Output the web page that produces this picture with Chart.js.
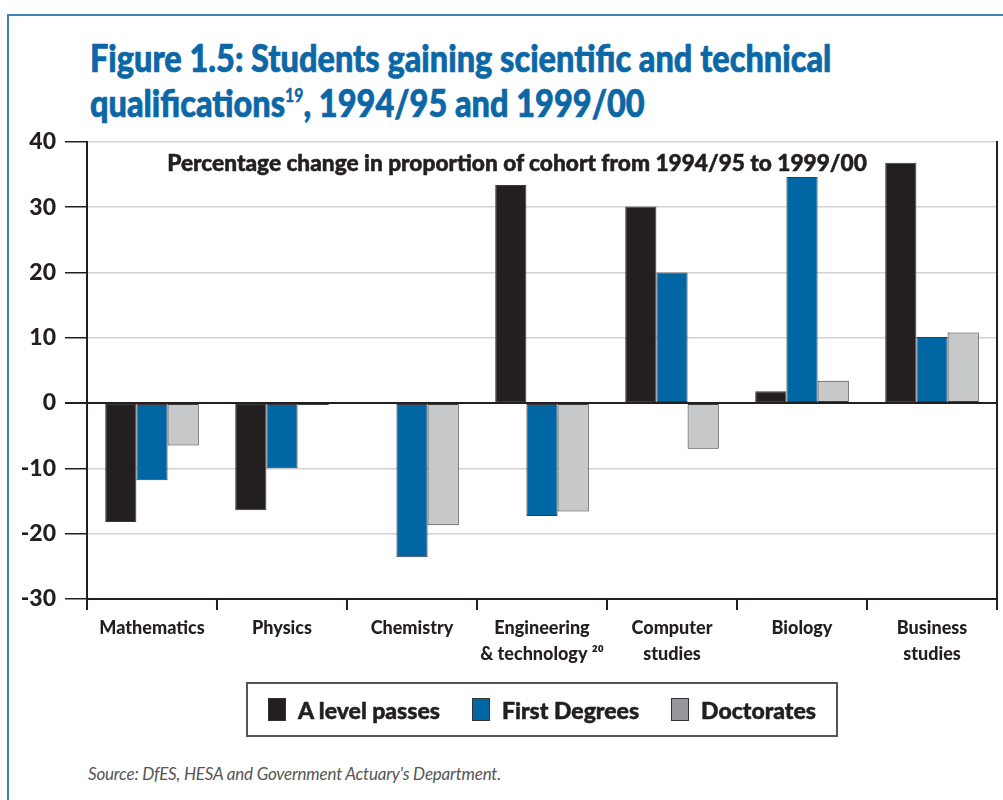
<!DOCTYPE html>
<html>
<head>
<meta charset="utf-8">
<script src="https://cdn.jsdelivr.net/npm/chart.js@4.4.0/dist/chart.umd.min.js"></script>
<style>
  body { margin: 0; background: #fff; width: 1003px; height: 800px; overflow: hidden; position: relative; font-family: Lato, "Open Sans", sans-serif; }
  .frame { position: absolute; left: 7px; top: 14px; right: -10px; bottom: -10px; border-left: 2px solid #3f82ba; border-top: 2px solid #3f82ba; }
  h1 { position: absolute; left: 90px; top: 35px; margin: 0; font-size: 37px; line-height: 45px; color: #0b67a6; font-weight: 900; white-space: nowrap; transform: scaleX(0.878); transform-origin: 0 0; -webkit-text-stroke: 0.7px #0b67a6; }
  h1 sup { font-size: 18px; vertical-align: 15px; line-height: 0; -webkit-text-stroke: 0.3px #0b67a6; }
  .sub { position: absolute; left: 87px; width: 860px; top: 149px; text-align: center; font-weight: 900; font-size: 22px; color: #231f20; -webkit-text-stroke: 0.5px #231f20; transform: scaleX(1.03); transform-origin: 430px 0; }
  #wrap { position: absolute; left: 0; top: 119px; width: 1003px; height: 566px; }
  .legend { position: absolute; left: 246px; top: 682px; width: 592px; height: 55px; border: 2px solid #555; box-sizing: border-box; display: flex; align-items: center; justify-content: center; gap: 32px; font-weight: 900; font-size: 23px; color: #231f20; -webkit-text-stroke: 0.5px #231f20; }
  .legend span { display: inline-flex; align-items: center; }
  .legend i { display: inline-block; width: 16px; height: 21px; border: 1px solid #333; margin-right: 12px; }
  .source { position: absolute; left: 88px; top: 763px; font-style: italic; font-size: 17px; color: #555; letter-spacing: -0.2px; }
</style>
</head>
<body>
<div class="frame"></div>
<h1>Figure 1.5: Students gaining scientific and technical<br>qualifications<sup>19</sup>, 1994/95 and 1999/00</h1>
<div id="wrap"><canvas id="chart"></canvas></div>
<div class="sub">Percentage change in proportion of cohort from 1994/95 to 1999/00</div>
<div class="legend">
  <span><i style="background:#231f20"></i>A level passes</span>
  <span><i style="background:#0066a4"></i>First Degrees</span>
  <span><i style="background:#97989b"></i>Doctorates</span>
</div>
<div class="source">Source: DfES, HESA and Government Actuary's Department.</div>

<script>
const categories = [
  "Mathematics",
  "Physics",
  "Chemistry",
  ["Engineering", "& technology \u00b2\u2070"],
  ["Computer", "studies"],
  "Biology",
  ["Business", "studies"],
];
const aLevelPasses = [-18.2, -16.4, -0.1, 33.4, 30.1, 1.8, 36.8];
const firstDegrees = [-11.8, -10.0, -23.6, -17.3, 20.0, 34.6, 10.1];
const doctorates = [-6.5, -0.3, -18.7, -16.6, -7.0, 3.4, 10.8];
const yTicks = [40, 30, 20, 10, 0, -10, -20, -30];

const ink = "#231f20";
const barBorder = "#3a3a3a";

function bars(label, data, color) {
  return {
    label,
    data,
    backgroundColor: color,
    borderColor: barBorder,
    borderWidth: 1,
    borderSkipped: false,
    categoryPercentage: 0.72,
    barPercentage: 1.0,
  };
}

const ctx = document.getElementById("chart");
new Chart(ctx, {
  type: "bar",
  data: {
    labels: categories,
    datasets: [
      bars("A level passes", aLevelPasses, "#231f20"),
      bars("First Degrees", firstDegrees, "#0066a4"),
      bars("Doctorates", doctorates, "#c7c8ca"),
    ],
  },
  options: {
    responsive: true,
    maintainAspectRatio: false,
    animation: false,
    layout: { padding: { top: 10, right: 6, left: 0, bottom: 0 } },
    plugins: { legend: { display: false }, tooltip: { enabled: false } },
    scales: {
      x: {
        grid: { drawOnChartArea: false, tickLength: 11, tickColor: ink, lineWidth: 2 },
        border: { color: ink, width: 2 },
        ticks: { color: ink, font: { family: "Lato", weight: 900, size: 18, lineHeight: 1.45 }, padding: 5, maxRotation: 0, autoSkip: false },
        afterFit: (s) => { s.height = 86; },
      },
      y: {
        min: -30,
        max: 40,
        afterBuildTicks: (s) => { s.ticks = yTicks.map((v) => ({ value: v })); },
        grid: {
          color: (c) => (c.tick && c.tick.value === 0 ? ink : "#d2d2d2"),
          lineWidth: (c) => (c.tick && c.tick.value === 0 ? 2 : 1.5),
          tickLength: 22,
          tickColor: ink,
        },
        border: { color: ink, width: 2 },
        ticks: { color: ink, font: { family: "Lato", weight: 900, size: 23 }, padding: 9 },
        afterFit: (s) => { s.width = 87; },
      },
      y2: {
        position: "right",
        min: -30,
        max: 40,
        grid: { drawOnChartArea: false, drawTicks: false },
        border: { color: ink, width: 2 },
        ticks: { display: false },
        afterFit: (s) => { s.width = 0; },
      },
    },
  },
});
</script>
</body>
</html>
